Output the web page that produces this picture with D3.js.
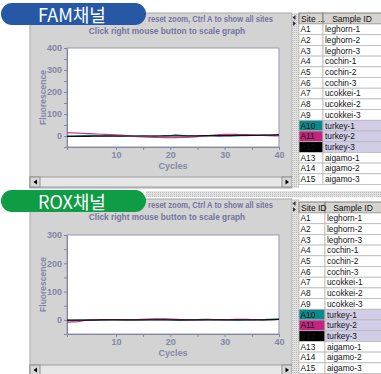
<!DOCTYPE html>
<html>
<head>
<meta charset="utf-8">
<script src="https://cdn.jsdelivr.net/npm/d3@7"></script>
<style>
  html, body { margin: 0; padding: 0; background: #fff; }
  svg { display: block; font-family: "Liberation Sans", Arial, sans-serif; }
</style>
</head>
<body>
<div id="chart"></div>
<script>
// cycles on the x axis
const cycles = [1,2,3,4,5,6,7,8,9,10,11,12,13,14,15,16,17,18,19,20,
                21,22,23,24,25,26,27,28,29,30,31,32,33,34,35,36,37,38,39,40];

// FAM channel (all near baseline)
const famA10 = [0,0,1,2,3,2,1,2,3,2,0,-1,0,0,1,0,-1,0,1,2,5,3,1,0,0,0,1,0,-1,0,1,1,2,2,3,3,4,4,5,6];
const famA11 = [14,14,13,12,11,10,8,7,6,5,4,2,-1,-3,-4,-5,-6,-6,-7,-7,-7,-6,-6,-5,-3,-1,2,4,6,7,7,7,6,6,5,4,3,2,1,1];
const famA12 = [-2,-2,-2,-2,-2,-1,-1,-1,-1,-1,-1,0,0,0,0,0,0,0,1,1,1,1,1,1,1,2,2,2,2,2,2,3,3,3,3,3,4,4,4,5];

// ROX channel
const roxA10 = [-2,-2,-1,-1,0,0,0,0,1,1,0,0,0,0,0,1,1,1,1,0,-1,-2,-1,0,1,2,2,1,1,0,0,-1,-1,0,0,1,1,2,3,3];
const roxA11 = [-8,-7,-6,-3,-1,0,0,1,1,1,1,0,0,1,2,3,4,4,4,3,2,1,0,0,0,0,1,1,1,1,1,2,2,2,1,1,0,0,1,2];
const roxA12 = [-1,-1,-1,-1,-1,-1,0,0,0,0,0,0,0,0,0,0,0,0,0,0,0,0,0,0,0,0,0,0,0,0,0,0,0,0,0,0,0,1,1,2];

const xTicks = [10, 20, 30, 40];
const xMinor = [15, 25, 35];
const famTicks = [0, 100, 200, 300, 400];
const roxTicks = [0, 100, 200, 300];

// table
const siteIds = ['A1','A2','A3','A4','A5','A6','A7','A8','A9','A10','A11','A12','A13','A14','A15'];
const sampleIds = ['leghorn-1','leghorn-2','leghorn-3','cochin-1','cochin-2','cochin-3',
                   'ucokkei-1','ucokkei-2','ucokkei-3','turkey-1','turkey-2','turkey-3',
                   'aigamo-1','aigamo-2','aigamo-3'];
const siteColors = {A10: '#0a8a8a', A11: '#c4247e', A12: '#000000'};

const W = 381, H = 374;
const svg = d3.select('#chart').append('svg').attr('width', W).attr('height', H);

const defs = svg.append('defs');
const pat = defs.append('pattern').attr('id', 'dots')
    .attr('width', 2).attr('height', 2).attr('patternUnits', 'userSpaceOnUse');
pat.append('rect').attr('width', 2).attr('height', 2).attr('fill', '#e2e2e2');
pat.append('rect').attr('width', 1).attr('height', 1).attr('fill', '#b8b8b8');

const x = d3.scaleLinear().domain([1, 40]).range([67, 279]);
const tickColor = '#8585a6';

function drawPanel(cfg) {
  const g = svg.append('g');
  const top = cfg.top;

  // gray panel
  g.append('rect').attr('x', 30).attr('y', top).attr('width', 262).attr('height', cfg.bottom - top)
      .attr('fill', '#d3d3d3').attr('stroke', '#a8a8a8');

  // hint text (start of first line is hidden by the title pill)
  g.append('text').attr('x', 148).attr('y', top + 9)
      .attr('font-size', 8.2).attr('font-weight', 'bold').attr('fill', '#7474a0')
      .attr('textLength', 125).attr('lengthAdjust', 'spacingAndGlyphs')
      .text('reset zoom, Ctrl A to show all sites');
  g.append('text').attr('x', 167).attr('y', top + 21).attr('text-anchor', 'middle')
      .attr('font-size', 8.3).attr('font-weight', 'bold').attr('fill', '#7474a0')
      .text('Click right mouse button to scale graph');

  const y = d3.scaleLinear().domain(cfg.yDomain).range(cfg.yRange);

  // plot area
  g.append('rect').attr('x', x.range()[0]).attr('y', cfg.yRange[1])
      .attr('width', x.range()[1] - x.range()[0]).attr('height', cfg.yRange[0] - cfg.yRange[1])
      .attr('fill', '#fff').attr('stroke', '#9a9ab2');

  g.append('g').attr('transform', `translate(${x.range()[0]},0)`)
      .call(d3.axisLeft(y).tickValues(cfg.yTicks).tickSize(3).tickPadding(2));
  g.append('g').attr('transform', `translate(${x.range()[0]},0)`)
      .call(d3.axisLeft(y).tickValues(cfg.yTicks.map(v => v + 50).filter(v => v < cfg.yDomain[1])).tickSize(3).tickFormat(''))
      .select('.domain').remove();

  g.append('g').attr('transform', `translate(0,${cfg.yRange[0]})`)
      .call(d3.axisBottom(x).tickValues(xTicks).tickSize(3).tickPadding(2));
  g.append('g').attr('transform', `translate(0,${cfg.yRange[0]})`)
      .call(d3.axisBottom(x).tickValues(xMinor).tickSize(3).tickFormat(''))
      .select('.domain').remove();

  g.selectAll('.domain, .tick line').attr('stroke', tickColor);
  g.selectAll('.tick text').attr('fill', tickColor).style('font-size', '9px').style('font-weight', 'bold');

  g.append('text').attr('x', 173).attr('y', cfg.yRange[0] + 22).attr('text-anchor', 'middle')
      .attr('font-size', 9).attr('font-weight', 'bold').attr('fill', tickColor).text('Cycles');
  g.append('text').attr('transform', `translate(46,${(cfg.yRange[0] + cfg.yRange[1]) / 2}) rotate(-90)`)
      .attr('text-anchor', 'middle').attr('font-size', 8.5).attr('font-weight', 'bold')
      .attr('fill', tickColor).text('Fluorescence');

  // curves
  const line = d3.line().x((d, i) => x(cycles[i])).y(d => y(d));
  cfg.series.forEach(s => {
    g.append('path').datum(s.values).attr('d', line)
        .attr('fill', 'none').attr('stroke', s.color).attr('stroke-width', 1.2);
  });

  // scrollbar
  const sy = cfg.scrollY;
  g.append('rect').attr('x', 30).attr('y', sy).attr('width', 262).attr('height', 10)
      .attr('fill', '#e6e6e6').attr('stroke', '#a0a0a0');
  g.append('rect').attr('x', 30).attr('y', sy).attr('width', 10).attr('height', 10)
      .attr('fill', '#d6d6d6').attr('stroke', '#909090');
  g.append('rect').attr('x', 282).attr('y', sy).attr('width', 10).attr('height', 10)
      .attr('fill', '#d6d6d6').attr('stroke', '#909090');
  g.append('path').attr('d', `M37,${sy + 2.5}L33.5,${sy + 5}L37,${sy + 7.5}Z`).attr('fill', '#000');
  g.append('path').attr('d', `M285.5,${sy + 2.5}L289,${sy + 5}L285.5,${sy + 7.5}Z`).attr('fill', '#000');

  // vertical splitter
  g.append('rect').attr('x', 292).attr('y', top).attr('width', 7).attr('height', cfg.bottom - top)
      .attr('fill', 'url(#dots)');
  g.append('path').attr('d', `M295.5,${top + 2}L292.5,${top + 4.5}L295.5,${top + 7}Z`).attr('fill', '#333');
  g.append('path').attr('d', `M293,${top + 8}L296,${top + 10.5}L293,${top + 13}Z`).attr('fill', '#333');

  // table
  const tx = 299, c1 = cfg.siteW, rowH = 10.7, hy = cfg.tableTop;
  const tg = g.append('g');
  tg.append('rect').attr('x', tx).attr('y', top).attr('width', W - tx).attr('height', cfg.bottom - top)
      .attr('fill', '#fff');
  tg.append('rect').attr('x', tx).attr('y', hy).attr('width', c1).attr('height', 11)
      .attr('fill', '#d6d3ce').attr('stroke', '#808080');
  tg.append('rect').attr('x', tx + c1).attr('y', hy).attr('width', W - tx - c1 + 2).attr('height', 11)
      .attr('fill', '#d6d3ce').attr('stroke', '#808080');
  tg.append('text').attr('x', tx + 2).attr('y', hy + 8.5).attr('font-size', 8.5).attr('fill', '#111')
      .text(cfg.siteHeader);
  tg.append('text').attr('x', tx + c1 + (W - tx - c1) / 2).attr('y', hy + 8.5).attr('text-anchor', 'middle')
      .attr('font-size', 8.5).attr('fill', '#111').text('Sample ID');

  const rows = tg.selectAll('.row').data(siteIds).join('g').attr('class', 'row')
      .attr('transform', (d, i) => `translate(0,${hy + 11 + i * rowH})`);
  rows.append('rect').attr('x', tx).attr('width', c1).attr('height', rowH)
      .attr('fill', d => siteColors[d] || '#fff').attr('stroke', '#b8b8b8').attr('stroke-width', 0.8);
  rows.append('rect').attr('x', tx + c1).attr('width', W - tx - c1 + 2).attr('height', rowH)
      .attr('fill', d => siteColors[d] ? '#d2cde6' : '#fff').attr('stroke', '#b8b8b8').attr('stroke-width', 0.8);
  rows.append('text').attr('x', tx + 1.5).attr('y', 8.3).attr('font-size', 8.3).attr('fill', '#111')
      .text(d => d);
  rows.append('text').attr('x', tx + c1 + 2).attr('y', 8.3).attr('font-size', 8.3).attr('fill', '#111')
      .text((d, i) => sampleIds[i]);

  // title pill
  g.append('rect').attr('x', 1).attr('y', cfg.pillY).attr('width', 145).attr('height', 22).attr('rx', 11)
      .attr('fill', cfg.pillColor);
  g.append('text').attr('x', 72).attr('y', cfg.pillY + 18.5).attr('text-anchor', 'middle')
      .attr('font-family', '"Noto Sans CJK KR", "Noto Sans", sans-serif').attr('font-size', 18)
      .attr('fill', '#fff').text(cfg.title);
}

// horizontal splitter between the two panels
svg.append('rect').attr('x', 30).attr('y', 188).attr('width', W - 30).attr('height', 11).attr('fill', '#fff');
svg.append('rect').attr('x', 146).attr('y', 191).attr('width', W - 146).attr('height', 6).attr('fill', 'url(#dots)');

drawPanel({
  title: 'FAM채널', pillColor: '#2658a6', pillY: 3,
  top: 13, bottom: 188, tableTop: 13, siteW: 24, siteHeader: 'Site ...',
  yDomain: [-50, 400], yRange: [147, 48], yTicks: famTicks, scrollY: 177,
  series: [
    {values: famA10, color: '#0a8a8a'},
    {values: famA11, color: '#d0398f'},
    {values: famA12, color: '#111111'}
  ]
});

drawPanel({
  title: 'ROX채널', pillColor: '#0e9c44', pillY: 190,
  top: 199, bottom: 374, tableTop: 202, siteW: 26, siteHeader: 'Site ID',
  yDomain: [-50, 300], yRange: [334, 235], yTicks: roxTicks, scrollY: 365,
  series: [
    {values: roxA10, color: '#0a8a8a'},
    {values: roxA11, color: '#c4247e'},
    {values: roxA12, color: '#111111'}
  ]
});
</script>
</body>
</html>
